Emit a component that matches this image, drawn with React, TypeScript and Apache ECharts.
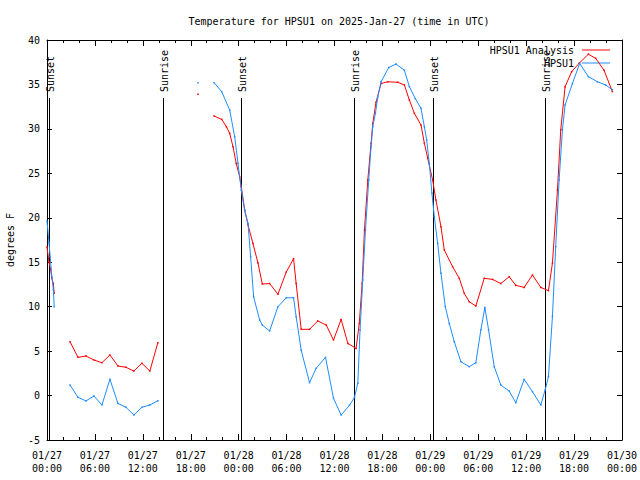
import React, { useEffect, useRef } from "react";
import * as echarts from "echarts";

// hours since 2025-01-27 00:00 UTC
const analysisHours = [
  0, 0.25, 0.45, 0.6, 0.8, 0.9, 1.9,
  2.88, 3.88, 4.88, 5.88, 6.88, 7.88, 8.88, 9.88, 10.88, 11.88, 12.88, 13.88, 16,
  18.9, 20,
  20.92, 21.875, 22.46, 22.875, 23.29, 23.7, 24.125, 24.33, 24.75, 25.17, 25.79, 26.42, 26.96,
  27.875, 28.92, 29.96, 30.875, 31.2, 31.83, 32.875, 33.9, 34.96, 35.875, 36.83, 37.67, 38.7,
  39.1, 39.46, 39.75, 40.17, 40.58, 40.79, 41.2, 41.83, 42.67, 43.92, 44.75, 45.375, 46.0,
  46.83, 47.25, 47.67, 48.29, 48.7, 49.33, 49.75, 50.79, 51.625, 52.25, 52.875, 53.7, 54.75,
  55.79, 56.83, 57.875, 58.7, 59.75, 60.79, 61.83, 62.79, 63.29, 63.92, 64.33, 64.875, 65.7,
  66.625, 67.79, 68.7, 69.75, 70.79,
];
const analysisTemps = [
  16.7, 15.0, 14.2, 13.2, 12.6, 11.5, null,
  6.06, 4.3, 4.45, 4.0, 3.7, 4.56, 3.33, 3.18, 2.76, 3.63, 2.76, 5.95, null,
  33.9, null,
  31.45, 31.07, 30.25, 29.5, 28.0, 26.1, 24.6, 23.5, 20.87, 19.2, 17.1, 14.9, 12.55,
  12.6, 11.4, 13.9, 15.4, 12.6, 7.45, 7.45, 8.39, 7.94, 6.25, 8.57, 5.87, 5.3,
  8.1, 12.6, 18.6, 24.25, 28.37, 30.6, 33.0, 35.1, 35.3, 35.24, 34.94, 33.25, 31.75,
  30.44, 28.4, 26.7, 24.25, 22.0, 19.0, 16.37, 14.5, 13.19, 11.5, 10.56, 10.07, 13.19,
  13.07, 12.6, 13.37, 12.4, 12.17, 13.56, 12.17, 11.8, 14.9, 23.13, 29.9, 34.75, 36.44,
  37.375, 38.4, 37.94, 36.6, 34.2,
];

const obsHours = [
  0, 0.25, 0.4, 0.6, 0.8, 0.9, 1.9,
  2.88, 3.88, 4.88, 5.88, 6.88, 7.88, 8.88, 9.88, 10.88, 11.88, 12.88, 13.88, 16,
  18.9, 20,
  20.92, 21.875, 22.875, 23.5, 23.92, 24.33, 24.75, 25.17, 25.5, 25.875, 26.625, 26.96,
  27.875, 28.92, 29.96, 30.875, 31.2, 31.83, 32.875, 33.7, 34.875, 35.875, 36.83, 37.875,
  38.5, 38.92, 39.2, 39.54, 39.875, 40.29, 40.58, 40.79, 41.125, 41.42, 41.83, 42.79, 43.7,
  44.75, 45.375, 46.125, 46.83, 47.25, 47.54, 47.875, 48.2, 48.5, 48.92, 49.33, 49.875,
  50.375, 51.0, 51.83, 52.875, 53.7, 54.33, 54.83, 55.29, 56.0, 56.83, 57.875, 58.7, 59.75,
  60.79, 61.83, 62.375, 62.79, 63.29, 63.7, 64.125, 64.54, 64.875, 65.79, 66.7, 67.79,
  68.92, 69.96, 70.79,
];
const obsTemps = [
  19.6, 17.2, 15.6, 13.4, 11.9, 10.0, null,
  1.19, -0.2, -0.6, -0.05, -1.06, 1.83, -0.88, -1.32, -2.19, -1.32, -1.06, -0.58, null,
  35.2, null,
  35.2, 34.19, 32.13, 29.12, 26.1, 23.1, 20.87, 19.37, 15.6, 11.1, 8.5, 7.94,
  7.26, 10.0, 11.0, 11.0, 8.87, 5.1, 1.45, 3.06, 4.3, -0.31, -2.19, -1.1,
  -0.2, 1.38, 7.4, 13.0, 18.6, 24.25, 28.0, 30.25, 31.75, 33.6, 35.3, 36.9, 37.3,
  36.6, 34.75, 33.4, 32.31, 30.25, 28.75, 26.1, 22.75, 20.1, 17.1, 13.75, 10.0,
  8.1, 6.06, 3.8, 3.25, 3.7, 7.4, 9.9, 7.4, 3.25, 1.18, 0.51, -0.8, 1.82,
  0.44, -1.06, 0.625, 2.12, 8.9, 16.75, 24.25, 29.9, 32.7, 35.1, 37.375, 35.875,
  35.3, 34.94, 34.4,
];

const sunHours = [0.3, 14.5, 24.3, 38.5, 48.3, 62.4];
const sunLabels = ["Sunset", "Sunrise", "Sunset", "Sunrise", "Sunset", "Sunrise"];

const seriesNames = ["HPSU1 Analysis", "HPSU1"];
const seriesColors = ["#ff0000", "#1e8cff"];

const titleText = "Temperature for HPSU1 on 2025-Jan-27 (time in UTC)";
const yAxisTitle = "degrees F";
const X_MIN = 0, X_MAX = 72, X_STEP = 6;
const Y_MIN = -5, Y_MAX = 40, Y_STEP = 5;

const FONT = '"DejaVu Sans Mono", monospace';

function fmtHour(v: number): string {
  const day = 27 + Math.floor(v / 24);
  const hr = Math.round(v % 24);
  const pad = (n: number) => (n < 10 ? "0" + n : "" + n);
  return "01/" + pad(day) + "\n" + pad(hr) + ":00";
}

export default function App() {
  const ref = useRef<HTMLDivElement>(null);
  useEffect(() => {
    if (!ref.current) return;
    const chart = echarts.init(ref.current, null, { renderer: "svg" });
    const pairs = (xs: number[], ys: (number | null)[]) => xs.map((x, i) => [x, ys[i] === null ? "-" : ys[i]]);
    const yTop = Y_MIN + 0.855 * (Y_MAX - Y_MIN);
    const axisCommon = {
      type: "value" as const,
      axisLine: { show: true, onZero: false, lineStyle: { color: "#000", width: 1 } },
      splitLine: { show: false },
    };
    chart.setOption({
      animation: false,
      backgroundColor: "#fff",
      title: {
        text: titleText,
        left: 334,
        textAlign: "center",
        top: 11,
        textStyle: { fontFamily: FONT, fontSize: 10, fontWeight: "normal", color: "#000" },
      },
      grid: { left: 47, right: 18, top: 40, bottom: 40, containLabel: false, outerBoundsMode: "none" },
      xAxis: [
        {
          ...axisCommon,
          min: X_MIN, max: X_MAX, interval: X_STEP,
          position: "bottom",
          axisTick: { show: true, inside: true, length: 6, lineStyle: { color: "#000" } },
          minorTick: { show: true, splitNumber: 3, length: 3, lineStyle: { color: "#000" } },
          axisLabel: {
            formatter: (v: number) => fmtHour(v),
            fontFamily: FONT, fontSize: 10, color: "#000", margin: 9, lineHeight: 13,
          },
        },
        {
          ...axisCommon,
          min: X_MIN, max: X_MAX, interval: X_STEP,
          position: "top",
          axisTick: { show: true, inside: true, length: 6, lineStyle: { color: "#000" } },
          minorTick: { show: true, splitNumber: 3, length: 3, lineStyle: { color: "#000" } },
          axisLabel: { show: false },
        },
      ],
      yAxis: [
        {
          ...axisCommon,
          min: Y_MIN, max: Y_MAX, interval: Y_STEP,
          position: "left",
          name: yAxisTitle,
          nameLocation: "middle",
          nameGap: 32,
          nameRotate: 90,
          nameTextStyle: { fontFamily: FONT, fontSize: 10, color: "#000" },
          axisTick: { show: true, inside: true, length: 5, lineStyle: { color: "#000" } },
          axisLabel: { fontFamily: FONT, fontSize: 10, color: "#000", margin: 7 },
        },
        {
          ...axisCommon,
          min: Y_MIN, max: Y_MAX, interval: Y_STEP,
          position: "right",
          axisTick: { show: true, inside: true, length: 5, lineStyle: { color: "#000" } },
          axisLabel: { show: false },
        },
      ],
      graphic: seriesNames.map((n, i) => ({
        type: "group",
        children: [
          {
            type: "text",
            x: 574,
            y: 50 + i * 13,
            style: {
              text: n, fill: "#000", font: "10px " + FONT,
              align: "right", verticalAlign: "middle",
            },
          },
          {
            type: "line",
            shape: { x1: 582, y1: 50 + i * 13, x2: 610, y2: 50 + i * 13 },
            style: { stroke: seriesColors[i], lineWidth: 1 },
          },
        ],
      })),
      series: [
        {
          type: "custom",
          name: "sun",
          silent: true,
          data: sunHours.map((h) => [h, Y_MIN]),
          encode: { x: 0, y: 1 },
          renderItem: (params: any, api: any) => {
            const h = api.value(0);
            const p0 = api.coord([h, Y_MIN]);
            const p1 = api.coord([h, yTop]);
            const x = Math.round(p0[0]) + 0.5;
            return {
              type: "group",
              children: [
                {
                  type: "line",
                  shape: { x1: x, y1: p0[1], x2: x, y2: p1[1] },
                  style: { stroke: "#000", lineWidth: 1 },
                },
                {
                  type: "text",
                  x: x + 1,
                  y: p1[1] - 6,
                  rotation: Math.PI / 2,
                  style: {
                    text: sunLabels[params.dataIndex],
                    fill: "#000",
                    font: "10px " + FONT,
                    align: "left",
                    verticalAlign: "middle",
                  },
                },
              ],
            };
          },
          z: 1,
        },
        {
          type: "line",
          name: seriesNames[0],
          data: pairs(analysisHours, analysisTemps),
          showSymbol: true,
          symbol: "rect",
          symbolSize: 1.5,
          connectNulls: false,
          lineStyle: { color: seriesColors[0], width: 1 },
          itemStyle: { color: seriesColors[0] },
          z: 3,
        },
        {
          type: "line",
          name: seriesNames[1],
          data: pairs(obsHours, obsTemps),
          showSymbol: true,
          symbol: "rect",
          symbolSize: 1.5,
          connectNulls: false,
          lineStyle: { color: seriesColors[1], width: 1 },
          itemStyle: { color: seriesColors[1] },
          z: 4,
        },
      ],
    });
    return () => chart.dispose();
  }, []);
  return <div ref={ref} style={{ width: 640, height: 480, position: "absolute", left: 0, top: 0 }} />;
}
